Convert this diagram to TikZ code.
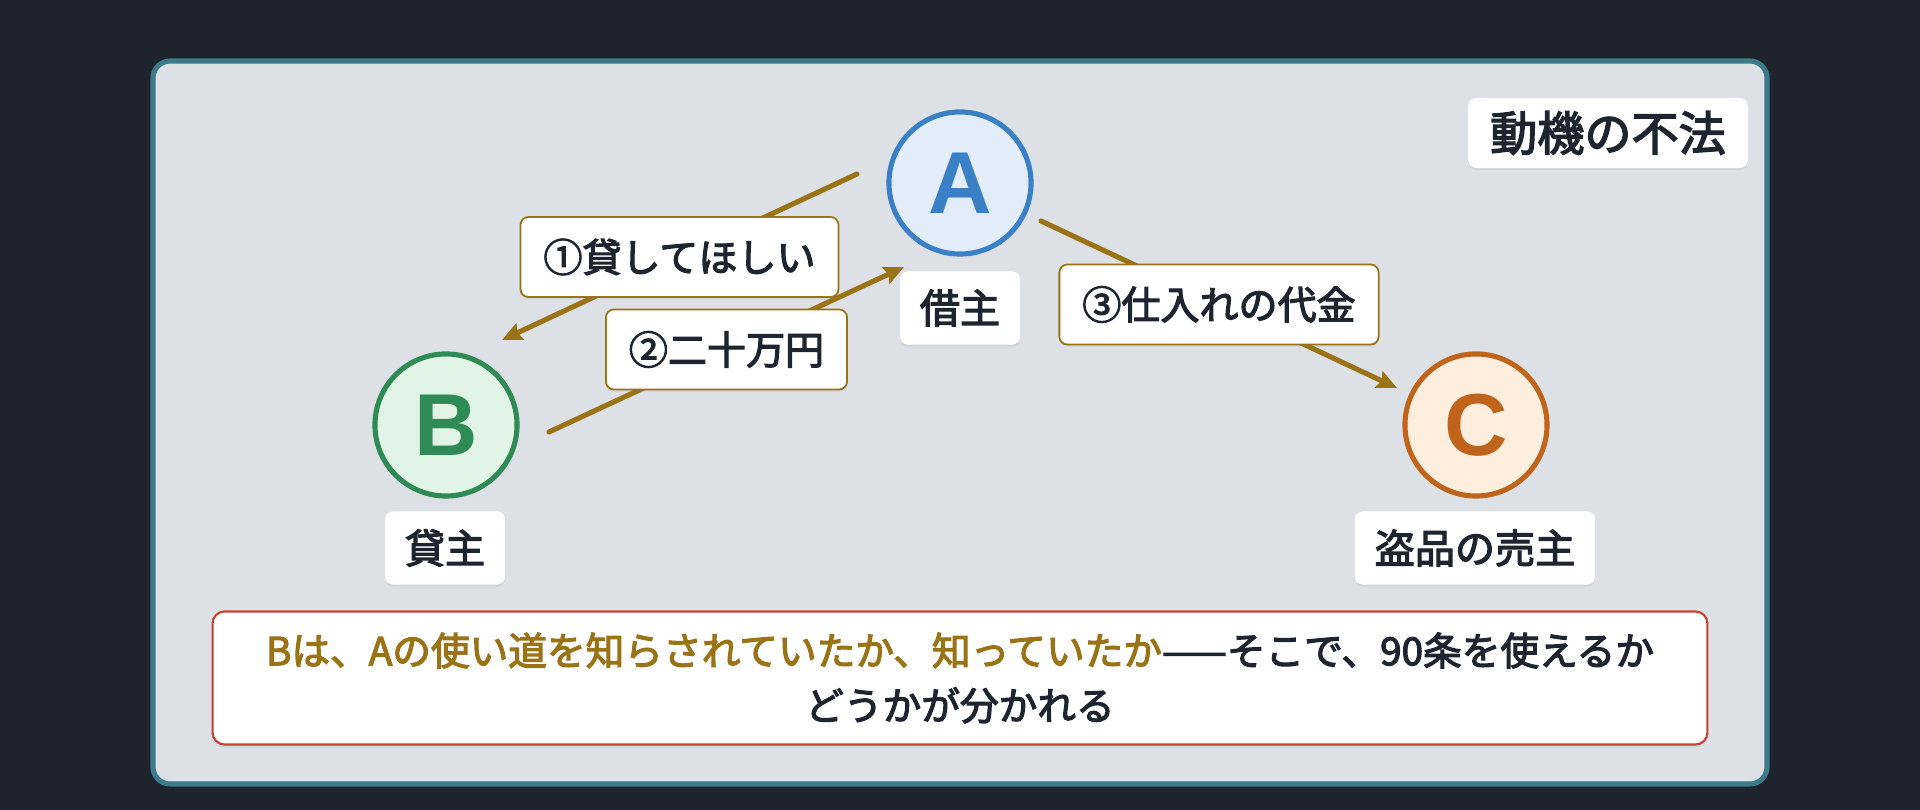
\documentclass[tikz,border=0pt]{standalone}
\usepackage{fontspec}
\setmainfont{Noto Sans CJK JP}
\newfontfamily\midjp{Noto Sans CJK JP}[FakeBold=3]
\newfontfamily\capfont{Liberation Sans}
\usepackage{tikz}
\usetikzlibrary{arrows.meta,shadows}
\definecolor{bgdark}{HTML}{1E232E}
\definecolor{panel}{HTML}{DDE0E5}
\definecolor{panelrim}{HTML}{3B7B8A}
\definecolor{ink}{HTML}{1E2530}
\definecolor{money}{HTML}{9B7317}
\definecolor{alert}{HTML}{C8412F}
\definecolor{aline}{HTML}{3A80C6}
\definecolor{afill}{HTML}{E3EDF9}
\definecolor{bline}{HTML}{2E8B55}
\definecolor{bfill}{HTML}{E2F4E6}
\definecolor{cline}{HTML}{C0641C}
\definecolor{cfill}{HTML}{FDEEDD}
\tikzset{%
  party/.style={draw,shape=circle,line width=1.45pt,minimum size=1.42cm,inner sep=0,font=\capfont\bfseries\fontsize{25}{25}\selectfont},
  role/.style={shape=rectangle,fill=white,rounded corners=0.08cm,minimum height=0.73cm,inner xsep=0.2cm,text=ink,font=\midjp\fontsize{11.4}{12}\selectfont,drop shadow={shadow xshift=0pt,shadow yshift=-0.6pt,opacity=0.12}},
  deal/.style={draw=money,line width=1.45pt,line cap=round,-{Stealth[length=0.2cm,width=0.18cm,inset=0.03cm]}},
  dlabel/.style={shape=rectangle,draw=money,line width=0.5pt,fill=white,rounded corners=0.08cm,minimum height=0.8cm,inner xsep=0.23cm,text=ink,font=\midjp\fontsize{11.1}{12}\selectfont,drop shadow={shadow xshift=0pt,shadow yshift=-0.6pt,opacity=0.12}}
}

\begin{document}
\begin{tikzpicture}[x=0.01cm,y=-0.01cm]
    \fill[bgdark] (0,0) rectangle (1920,810);
    \useasboundingbox (0,0) rectangle (1920,810);
    \draw[panelrim,fill=panel,line width=1.45pt,rounded corners=0.17cm] (153,61) rectangle (1767,784);
    \path
      (960,183) node (a)[party,draw=aline,fill=afill,text=aline]{A}
      (446,425) node (b)[party,draw=bline,fill=bfill,text=bline]{B}
      (1476,425) node (c)[party,draw=cline,fill=cfill,text=cline]{C}
      (960,308) node (aname)[role]{借主}
      (445,548) node (bname)[role]{貸主}
      (1475,548) node (cname)[role]{盗品の売主}
      (1608,133) node (title)[role,minimum height=0.7cm,inner xsep=0.22cm,font=\midjp\fontsize{13.4}{14}\selectfont]{動機の不法};
    \coordinate (askfrom) at (857,174);
    \coordinate (askto) at (502,340);
    \coordinate (loanfrom) at (549,432);
    \coordinate (loanto) at (904,267);
    \coordinate (payfrom) at (1041,221);
    \coordinate (payto) at (1397,388);
    \draw[deal] (askfrom) -- node[dlabel]{①貸してほしい} (askto);
    \draw[deal] (loanfrom) -- node[dlabel]{②二十万円} (loanto);
    \draw[deal] (payfrom) -- node[dlabel]{③仕入れの代金} (payto);
    \node (note)[draw=alert,line width=0.6pt,fill=white,rounded corners=0.12cm,minimum width=14.94cm,minimum height=1.33cm,align=center,text=ink,font=\midjp\fontsize{11}{15.6}\selectfont,drop shadow={shadow xshift=0pt,shadow yshift=-0.8pt,opacity=0.12}] at (960,678)
      {\textcolor{money}{Bは、Aの使い道を知らされていたか、知っていたか}——そこで、90条を使えるか\\どうかが分かれる};
  \end{tikzpicture}
\end{document}
